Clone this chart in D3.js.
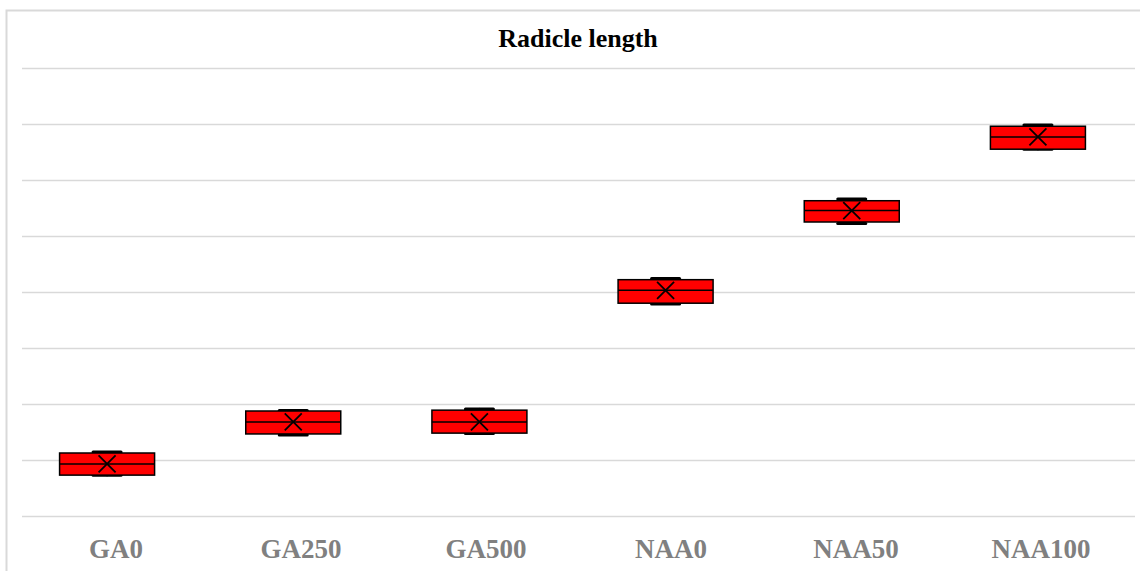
<!DOCTYPE html>
<html>
<head>
<meta charset="utf-8">
<script src="https://cdn.jsdelivr.net/npm/d3@7/dist/d3.min.js"></script>
<style>
  html, body { margin: 0; padding: 0; background: #ffffff; }
  svg { display: block; }
</style>
</head>
<body>
<svg id="chart" width="1140" height="571"></svg>
<script>
// ---- Data ----
const categories = ["GA0", "GA250", "GA500", "NAA0", "NAA50", "NAA100"];
const whiskerMin = [0.71, 1.43, 1.455, 3.77, 5.205, 6.53];
const q1Values   = [0.73, 1.465, 1.48, 3.80, 5.25, 6.55];
const medians    = [0.93, 1.68, 1.68, 4.03, 5.455, 6.77];
const q3Values   = [1.125, 1.875, 1.89, 4.22, 5.63, 6.96];
const whiskerMax = [1.16, 1.90, 1.93, 4.26, 5.68, 7.00];
const means      = [0.93, 1.68, 1.68, 4.03, 5.455, 6.77];
const yTicks     = [0, 1, 2, 3, 4, 5, 6, 7, 8];
const chartTitle = "Radicle length";

const rows = categories.map((c, i) => ({
  cat: c, lo: whiskerMin[i], q1: q1Values[i], med: medians[i],
  q3: q3Values[i], hi: whiskerMax[i], mean: means[i]
}));

const svg = d3.select("#chart");

// chart frame
svg.append("rect")
  .attr("x", 6.5).attr("y", 10.5)
  .attr("width", 1160).attr("height", 620)
  .attr("fill", "none").attr("stroke", "#d9d9d9").attr("stroke-width", 2);

const x = d3.scaleBand().domain(categories).range([14, 1131]);
const xLabel = d3.scaleBand().domain(categories).range([23.5, 1133.5]);
const y = d3.scaleLinear().domain([0, 8]).range([516, 68]);

// gridlines
svg.append("g").selectAll("line").data(yTicks).join("line")
  .attr("x1", 22).attr("x2", 1135)
  .attr("y1", d => Math.round(y(d)) + 0.5).attr("y2", d => Math.round(y(d)) + 0.5)
  .attr("stroke", "#d9d9d9").attr("stroke-width", 1.5);

// title
svg.append("text")
  .attr("x", 578).attr("y", 47)
  .attr("text-anchor", "middle")
  .attr("font-family", "'Liberation Serif', 'Times New Roman', serif")
  .attr("font-weight", "bold").attr("font-size", 26)
  .attr("fill", "#000000")
  .text(chartTitle);

// x axis labels
const xAxis = d3.axisBottom(xLabel).tickSize(0).tickPadding(0);
const gx = svg.append("g").attr("transform", "translate(0,536)").call(xAxis);
gx.select(".domain").remove();
gx.selectAll("text")
  .attr("dy", 0).attr("y", 22)
  .attr("font-family", "'Liberation Serif', 'Times New Roman', serif")
  .attr("font-weight", "bold").attr("font-size", 27)
  .attr("fill", "#808080");

// boxes
const boxW = 95;
const capW = 28;
const g = svg.append("g").selectAll("g").data(rows).join("g")
  .attr("transform", d => `translate(${x(d.cat) + x.bandwidth() / 2},0)`);

// whiskers
g.append("line")
  .attr("x1", 0).attr("x2", 0)
  .attr("y1", d => y(d.hi)).attr("y2", d => y(d.q3))
  .attr("stroke", "#000").attr("stroke-width", 1.5);
g.append("line")
  .attr("x1", 0).attr("x2", 0)
  .attr("y1", d => y(d.q1)).attr("y2", d => y(d.lo))
  .attr("stroke", "#000").attr("stroke-width", 1.5);

// caps
g.append("line")
  .attr("x1", -capW / 2).attr("x2", capW / 2)
  .attr("y1", d => y(d.hi) + 1).attr("y2", d => y(d.hi) + 1)
  .attr("stroke", "#000").attr("stroke-width", 3).attr("stroke-linecap", "round");
g.append("line")
  .attr("x1", -capW / 2).attr("x2", capW / 2)
  .attr("y1", d => y(d.lo) - 1).attr("y2", d => y(d.lo) - 1)
  .attr("stroke", "#000").attr("stroke-width", 3).attr("stroke-linecap", "round");

// box
g.append("rect")
  .attr("x", -boxW / 2).attr("width", boxW)
  .attr("y", d => y(d.q3)).attr("height", d => y(d.q1) - y(d.q3))
  .attr("fill", "#ff0000").attr("stroke", "#000").attr("stroke-width", 1.5);

// median
g.append("line")
  .attr("x1", -boxW / 2).attr("x2", boxW / 2)
  .attr("y1", d => y(d.med)).attr("y2", d => y(d.med))
  .attr("stroke", "#000").attr("stroke-width", 1.5);

// mean marker (X)
const m = 8.5;
g.append("path")
  .attr("d", d => {
    const cy = y(d.mean);
    return `M${-m},${cy - m}L${m},${cy + m}M${-m},${cy + m}L${m},${cy - m}`;
  })
  .attr("stroke", "#000").attr("stroke-width", 1.8).attr("fill", "none");
</script>
</body>
</html>
